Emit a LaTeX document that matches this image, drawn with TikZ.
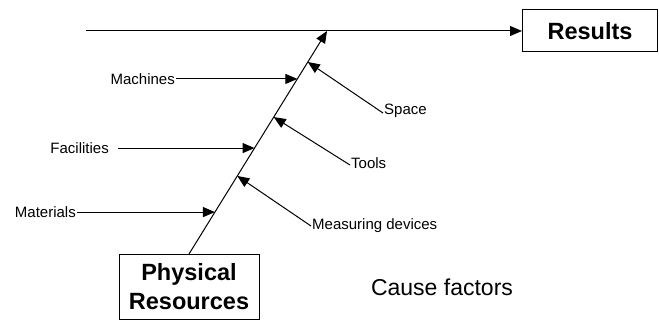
\documentclass[tikz,border=0pt]{standalone}
\usepackage{fontspec}
\setmainfont{Liberation Sans}
\usetikzlibrary{arrows.meta}
\begin{document}
\begin{tikzpicture}[x=1pt,y=-1pt,
  line/.style={line width=1pt,draw=black},
  arr/.style={line, -{Triangle[length=12pt,width=10pt]}},
  lbl/.style={font=\fontsize{15}{17}\selectfont, inner sep=1pt},
  boxnode/.style={draw, line width=1pt, font=\bfseries\fontsize{23.5}{29}\selectfont, align=center, inner sep=0pt}]
\useasboundingbox (0,0) rectangle (659,320);
\node[boxnode, minimum width=135pt, minimum height=42pt] (res) at (590,31) {Results};
\node[boxnode, minimum width=140pt, minimum height=65pt, anchor=north] (phys) at (189,254) {Physical\\Resources};
\coordinate (start) at (86,31);
\coordinate (top) at (327,31);
\path (phys.north) -- (top)
  coordinate[pos=0.785] (sm)
  coordinate[pos=0.475] (sf)
  coordinate[pos=0.188] (sma)
  coordinate[pos=0.861] (ss)
  coordinate[pos=0.614] (st)
  coordinate[pos=0.350] (smd);
\draw[arr] (start) -- (res.west);
\draw[arr] (phys.north) -- (top);
\node[lbl, anchor=east] (mach) at (176,79) {Machines};
\node[lbl, anchor=east] (fac) at (110,148) {Facilities};
\node[lbl, anchor=east] (mat) at (77,212) {Materials};
\node[lbl, anchor=west] (space) at (383,111) {Space};
\node[lbl, anchor=west] (tools) at (350,163) {Tools};
\node[lbl, anchor=west] (meas) at (311,226) {Measuring devices};
\node[font=\fontsize{23}{27}\selectfont] (cause) at (442,287) {Cause factors};
\draw[arr] (mach.east |- sm) -- (sm);
\draw[arr] ([xshift=8pt]fac.east |- sf) -- (sf);
\draw[arr] (mat.east |- sma) -- (sma);
\draw[arr] ([yshift=-2pt]space.west) -- (ss);
\draw[arr] ([yshift=-2pt]tools.west) -- (st);
\draw[arr] (meas.west) -- (smd);
\end{tikzpicture}
\end{document}
